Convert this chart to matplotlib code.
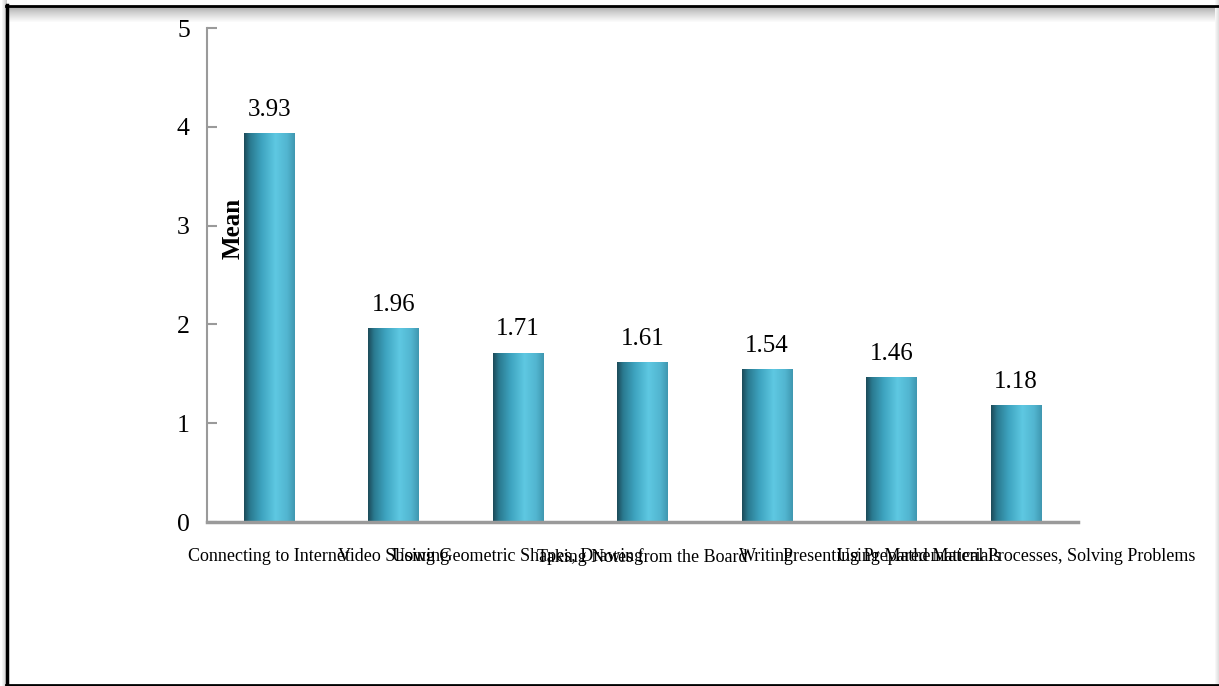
import numpy as np
import matplotlib
matplotlib.use("Agg")
import matplotlib.pyplot as plt
from matplotlib.colors import LinearSegmentedColormap

categories = [
    "Connecting to Internet",
    "Video Showing",
    "Using Geometric Shapes, Drawing",
    "Taking Notes from the Board",
    "Writing",
    "Presenting Prepared Materials",
    "Using Mathematical Processes, Solving Problems",
]
means = [3.93, 1.96, 1.71, 1.61, 1.54, 1.46, 1.18]
y_ticks = [0, 1, 2, 3, 4, 5]

plt.rcParams["font.family"] = ["Liberation Serif", "DejaVu Serif"]

W, H = 1219, 686
fig = plt.figure(figsize=(W / 100, H / 100), dpi=100)

# frame with shadow (background axes)
bg = fig.add_axes([0, 0, 1, 1], zorder=-10)
bg.set_xlim(0, W)
bg.set_ylim(H, 0)
bg.axis("off")
img = np.ones((H, W, 3))
# top inner shadow
for i in range(16):
    v = 0.68 + 0.32 * (i / 15) ** 0.8
    img[7 + i, 8:, :] = np.minimum(img[7 + i, 8:, :], v)
# left outer shadow
for i in range(6):
    v = 0.8 + 0.2 * (i / 5)
    img[:, 6 - i, :] = np.minimum(img[:, 6 - i, :], v)
# right shadow
for i in range(4):
    v = 0.97 - 0.03 * i
    img[:, W - 4 + i, :] = v
bg.imshow(img, extent=(0, W, H, 0), aspect="auto", interpolation="bilinear")
bg.plot([7, 7], [5, 685], color="black", lw=2.5)
bg.plot([6, W], [6, 6], color="black", lw=2)
bg.plot([6, W], [684.5, 684.5], color="black", lw=2)

ax = fig.add_axes([0.1698, 0.239, 0.8843 - 0.1698, 0.959 - 0.239])
ax.patch.set_alpha(0)

x = np.arange(len(categories))
bars = ax.bar(x, means, width=0.405, color="none", edgecolor="none", zorder=3)

cmap = LinearSegmentedColormap.from_list(
    "cyl",
    [(0.0, "#1c4a58"), (0.12, "#2a7a90"), (0.35, "#3ea4c0"),
     (0.62, "#5ec8e2"), (0.85, "#52b5d0"), (1.0, "#3f97b0")],
)
grad = np.linspace(0, 1, 256).reshape(1, -1)
for b in bars:
    x0, w, h = b.get_x(), b.get_width(), b.get_height()
    ax.imshow(grad, cmap=cmap, extent=(x0, x0 + w, 0, h), aspect="auto",
              interpolation="bilinear", zorder=2)
    ax.text(x0 + w / 2, h + 0.13, f"{h:.2f}", ha="center", va="bottom", fontsize=18)

ax.set_xlim(-0.5, len(categories) - 0.5)
ax.set_ylim(0, 5)
ax.set_yticks(y_ticks)
ax.set_yticklabels([str(t) for t in y_ticks], fontsize=18.5)
ax.set_xticks(x)
ax.set_xticklabels(categories, fontsize=13)
ax.tick_params(axis="x", length=0, pad=19)
ax.tick_params(axis="y", direction="in", length=7, color="#9a9a9a", width=1.5, pad=17)
for lbl in ax.get_yticklabels():
    lbl.set_horizontalalignment("center")

for s in ["top", "right"]:
    ax.spines[s].set_visible(False)
ax.spines["left"].set_color("#9a9a9a")
ax.spines["left"].set_linewidth(1.5)
ax.spines["bottom"].set_color("#9a9a9a")
ax.spines["bottom"].set_linewidth(2.5)

ax.text(0.03, 0.595, "Mean", transform=ax.transAxes, rotation=90, ha="center",
        va="center", fontsize=18, fontweight="bold", zorder=5)

fig.savefig("out.png", dpi=100)
